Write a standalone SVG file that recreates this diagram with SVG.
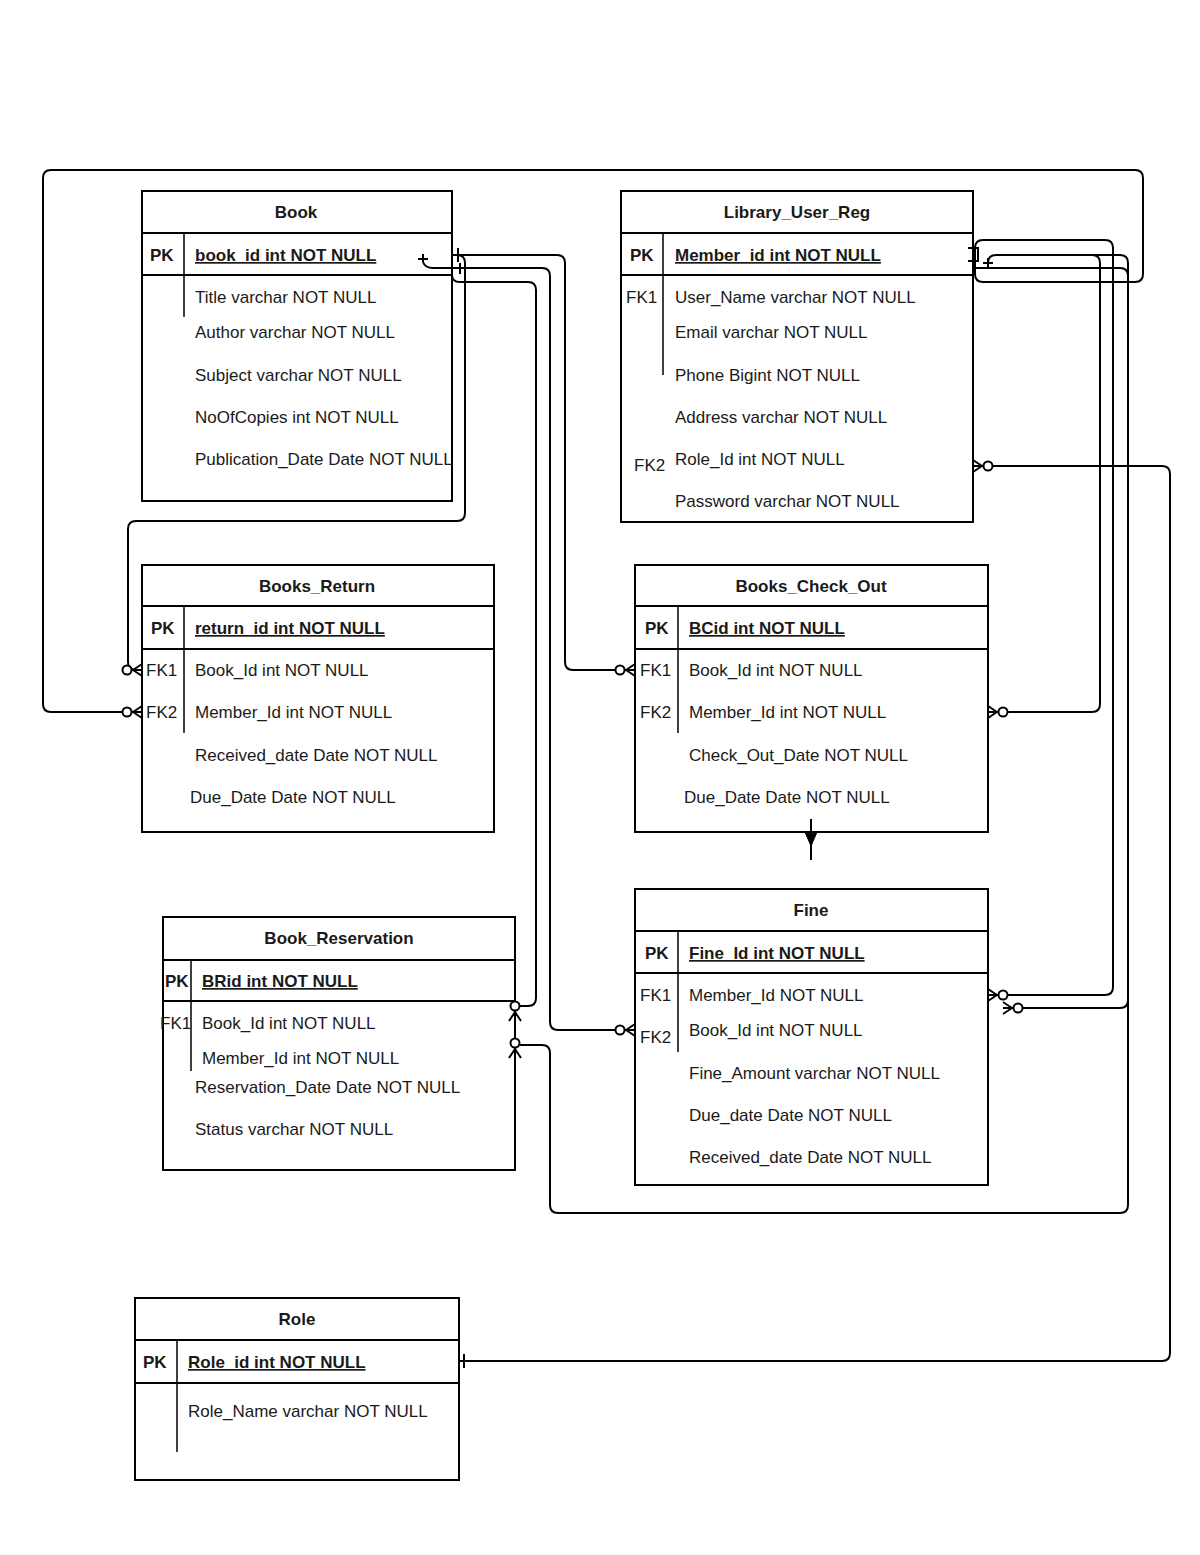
<svg xmlns="http://www.w3.org/2000/svg" width="1200" height="1555" viewBox="0 0 1200 1555">
<style>
.tb{fill:#fff;stroke:#000;stroke-width:2}
.ln{stroke:#000;stroke-width:2;fill:none}
.dv{stroke:#000;stroke-width:1.5;fill:none}
text{font-family:"Liberation Sans",Arial,sans-serif;font-size:17px;fill:#1a1a1a}
.h{font-weight:bold;text-anchor:middle}
.pk{font-weight:bold;text-decoration:underline}
.cn{stroke:#000;stroke-width:2;fill:none}
</style>
<defs>
<marker id="zm" markerUnits="userSpaceOnUse" viewBox="-24 -10 28 20" refX="0" refY="0" markerWidth="28" markerHeight="20" orient="auto" overflow="visible">
<path d="M-9,0 L0,-6 M-9,0 L0,6 M-9,0 L0,0" stroke="#000" stroke-width="2" fill="none"/>
<circle cx="-15" cy="0" r="4.5" fill="#fff" stroke="#000" stroke-width="2"/>
</marker>
<marker id="one" markerUnits="userSpaceOnUse" viewBox="-10 -10 20 20" refX="0" refY="0" markerWidth="20" markerHeight="20" orient="auto" overflow="visible">
<path d="M5,-7 V7" stroke="#000" stroke-width="2"/>
</marker>
</defs>

<g id="Book">
<rect class="tb" x="142" y="191" width="310" height="310"/>
<path class="ln" d="M142,233 H452 M142,275 H452"/>
<path class="dv" d="M184,233 V317"/>
<text class="h" x="296" y="218">Book</text>
<text x="150" y="261" font-weight="bold">PK</text>
<text class="pk" x="195" y="261">book_id int NOT NULL</text>
<text x="195" y="303">Title varchar NOT NULL</text>
<text x="195" y="338">Author varchar NOT NULL</text>
<text x="195" y="381">Subject varchar NOT NULL</text>
<text x="195" y="423">NoOfCopies int NOT NULL</text>
<text x="195" y="465">Publication_Date Date NOT NULL</text>
</g>

<g id="Library_User_Reg">
<rect class="tb" x="621" y="191" width="352" height="331"/>
<path class="ln" d="M621,233 H973 M621,275 H973"/>
<path class="dv" d="M663,233 V375"/>
<text class="h" x="797" y="218">Library_User_Reg</text>
<text x="630" y="261" font-weight="bold">PK</text>
<text class="pk" x="675" y="261">Member_id int NOT NULL</text>
<text x="626" y="303">FK1</text>
<text x="675" y="303">User_Name varchar NOT NULL</text>
<text x="675" y="338">Email varchar NOT NULL</text>
<text x="675" y="381">Phone Bigint NOT NULL</text>
<text x="675" y="423">Address varchar NOT NULL</text>
<text x="634" y="471">FK2</text>
<text x="675" y="465">Role_Id int NOT NULL</text>
<text x="675" y="507">Password varchar NOT NULL</text>
</g>

<g id="Books_Return">
<rect class="tb" x="142" y="565" width="352" height="267"/>
<path class="ln" d="M142,606 H494 M142,649 H494"/>
<path class="dv" d="M184,606 V733"/>
<text class="h" x="317" y="592">Books_Return</text>
<text x="151" y="634" font-weight="bold">PK</text>
<text class="pk" x="195" y="634">return_id int NOT NULL</text>
<text x="146" y="676">FK1</text>
<text x="195" y="676">Book_Id int NOT NULL</text>
<text x="146" y="718">FK2</text>
<text x="195" y="718">Member_Id int NOT NULL</text>
<text x="195" y="761">Received_date Date NOT NULL</text>
<text x="190" y="803">Due_Date Date NOT NULL</text>
</g>

<g id="Books_Check_Out">
<rect class="tb" x="635" y="565" width="353" height="267"/>
<path class="ln" d="M635,606 H988 M635,649 H988"/>
<path class="dv" d="M678,606 V733"/>
<text class="h" x="811" y="592">Books_Check_Out</text>
<text x="645" y="634" font-weight="bold">PK</text>
<text class="pk" x="689" y="634">BCid int NOT NULL</text>
<text x="640" y="676">FK1</text>
<text x="689" y="676">Book_Id int NOT NULL</text>
<text x="640" y="718">FK2</text>
<text x="689" y="718">Member_Id int NOT NULL</text>
<text x="689" y="761">Check_Out_Date NOT NULL</text>
<text x="684" y="803">Due_Date Date NOT NULL</text>
</g>

<g id="Fine">
<rect class="tb" x="635" y="889" width="353" height="296"/>
<path class="ln" d="M635,931 H988 M635,973 H988"/>
<path class="dv" d="M678,931 V1052"/>
<text class="h" x="811" y="916">Fine</text>
<text x="645" y="959" font-weight="bold">PK</text>
<text class="pk" x="689" y="959">Fine_Id int NOT NULL</text>
<text x="640" y="1001">FK1</text>
<text x="689" y="1001">Member_Id NOT NULL</text>
<text x="640" y="1043">FK2</text>
<text x="689" y="1036">Book_Id int NOT NULL</text>
<text x="689" y="1079">Fine_Amount varchar NOT NULL</text>
<text x="689" y="1121">Due_date Date NOT NULL</text>
<text x="689" y="1163">Received_date Date NOT NULL</text>
</g>

<g id="Book_Reservation">
<rect class="tb" x="163" y="917" width="352" height="253"/>
<path class="ln" d="M163,960 H515 M163,1001 H515"/>
<path class="dv" d="M191,960 V1071"/>
<text class="h" x="339" y="944">Book_Reservation</text>
<text x="165" y="987" font-weight="bold">PK</text>
<text class="pk" x="202" y="987">BRid int NOT NULL</text>
<text x="160" y="1029">FK1</text>
<text x="202" y="1029">Book_Id int NOT NULL</text>
<text x="202" y="1064">Member_Id int NOT NULL</text>
<text x="195" y="1093">Reservation_Date Date NOT NULL</text>
<text x="195" y="1135">Status varchar NOT NULL</text>
</g>

<g id="Role">
<rect class="tb" x="135" y="1298" width="324" height="182"/>
<path class="ln" d="M135,1340 H459 M135,1383 H459"/>
<path class="dv" d="M177,1340 V1452"/>
<text class="h" x="297" y="1325">Role</text>
<text x="143" y="1368" font-weight="bold">PK</text>
<text class="pk" x="188" y="1368">Role_id int NOT NULL</text>
<text x="188" y="1417">Role_Name varchar NOT NULL</text>
</g>

<g id="connectors">
<path class="cn" d="M452,255 H557 Q565,255 565,263 V662 Q565,670 573,670 H635" marker-end="url(#zm)"/>
<path class="cn" d="M452,255 H457 Q465,255 465,263 V513 Q465,521 457,521 H136 Q128,521 128,529 V662 Q128,670 136,670 H142" marker-end="url(#zm)"/>
<path class="cn" d="M423,262 Q425,268 433,268 H542 Q550,268 550,276 V1022 Q550,1030 558,1030 H635" marker-end="url(#zm)"/>
<path class="cn" d="M418,259 H428 M423,254 V262 M458,248 V262 M460,263 V274"/>
<path class="cn" d="M452,275 Q452,282 460,282 H528 Q536,282 536,290 V998 Q536,1006 528,1006 H515 V1021" marker-end="url(#zm)"/>
<path class="cn" d="M988,263 Q988,255 996,255 H1092 Q1100,255 1100,263 V704 Q1100,712 1092,712 H988" marker-end="url(#zm)"/>
<path class="cn" d="M983,263 H993 M988,258 V268 M968,248 H978 V261 H968"/>
<path class="cn" d="M975,255 V248 Q975,240 983,240 H1105 Q1113,240 1113,248 V987 Q1113,995 1105,995 H988" marker-end="url(#zm)"/>
<path class="cn" d="M996,255 H1120 Q1128,255 1128,263 V1000 Q1128,1008 1120,1008 H1003" marker-end="url(#zm)"/>
<path class="cn" d="M975,255 V268 H1120 Q1128,268 1128,276 V1205 Q1128,1213 1120,1213 H558 Q550,1213 550,1205 V1053 Q550,1045 542,1045 H515 V1058" marker-end="url(#zm)"/>
<path class="cn" d="M975,255 V274 Q975,282 983,282 H1135 Q1143,282 1143,274 V178 Q1143,170 1135,170 H51 Q43,170 43,178 V704 Q43,712 51,712 H142" marker-end="url(#zm)"/>
<path class="cn" d="M459,1361 H1162 Q1170,1361 1170,1353 V474 Q1170,466 1162,466 H973" marker-start="url(#one)" marker-end="url(#zm)"/>
<path class="cn" d="M811,819 V860"/>
<path d="M805,832 L811,846 L817,832 Q811,836 805,832 Z" fill="#000" stroke="#000" stroke-width="1"/>
</g>
</svg>
